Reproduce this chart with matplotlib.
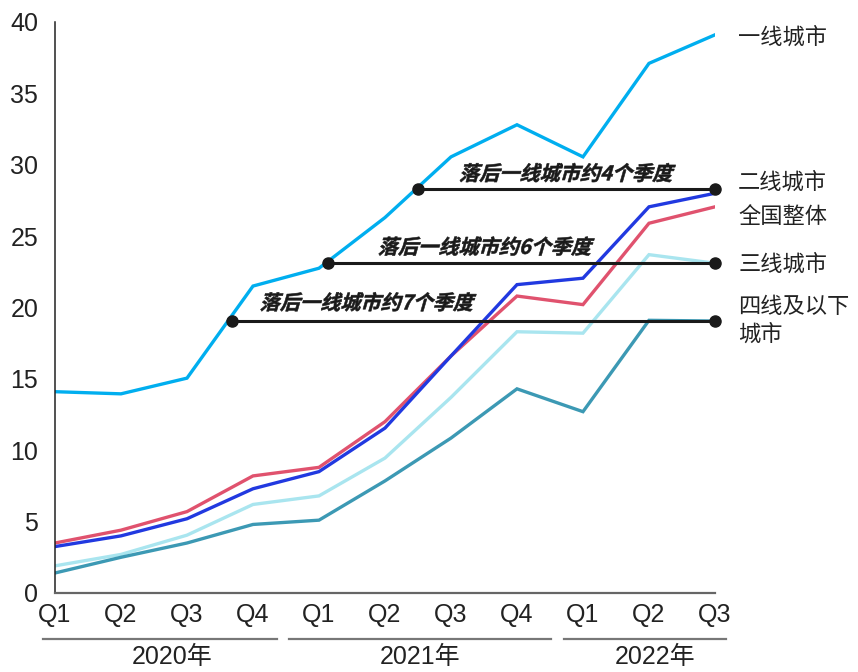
import matplotlib
matplotlib.use('Agg')
import matplotlib.pyplot as plt
import matplotlib.transforms as mtransforms
from matplotlib.textpath import TextPath
from matplotlib.patches import PathPatch
from matplotlib.font_manager import FontProperties

plt.rcParams['font.family'] = ['Liberation Sans', 'Noto Sans CJK SC']

quarters = ['Q1', 'Q2', 'Q3', 'Q4', 'Q1', 'Q2', 'Q3', 'Q4', 'Q1', 'Q2', 'Q3']
years = ['2020年', '2021年', '2022年']

tier1 = [14.1, 13.95, 15.05, 21.5, 22.75, 26.3, 30.55, 32.8, 30.55, 37.1, 39.1]
tier2 = [3.25, 4.0, 5.2, 7.3, 8.5, 11.55, 16.6, 21.6, 22.05, 27.05, 28.0]
national = [3.5, 4.4, 5.7, 8.2, 8.8, 12.0, 16.6, 20.8, 20.2, 25.9, 27.05]
tier3 = [1.9, 2.7, 4.05, 6.2, 6.8, 9.45, 13.7, 18.3, 18.2, 23.7, 23.1]
tier4 = [1.4, 2.5, 3.5, 4.8, 5.1, 7.85, 10.85, 14.3, 12.7, 19.1, 19.05]

series_names = ['一线城市', '二线城市', '全国整体', '三线城市', '四线及以下\n城市']
series_colors = ['#00aeef', '#2139e0', '#e0526e', '#a9e5ef', '#3c99b4']
label_y = [38.9, 28.75, 26.35, 23.05, 19.1]

# lag markers: where the line catches up with tier-1 level
lag_quarters = [7, 6, 4]
lag_start_x = [2.68, 4.14, 5.5]
lag_y = [19.06, 23.1, 28.3]
lag_text_pos = [(4.75, 20.4), (6.54, 24.3), (7.77, 29.45)]

fig = plt.figure(figsize=(8.58, 6.72), dpi=100)
ax = fig.add_axes([0.0641, 0.1176, 0.7692, 0.8497])

x = list(range(len(quarters)))
data = [tier1, tier2, national, tier3, tier4]
order = [0, 3, 4, 2, 1]
for i in order:
    ax.plot(x, data[i], color=series_colors[i], lw=2.4, zorder=2,
            solid_joinstyle='miter')

ax.set_xlim(0, 10)
ax.set_ylim(0, 40)
ax.set_yticks(range(0, 41, 5))
ax.set_xticks(x)
ax.set_xticklabels(quarters)
ax.tick_params(axis='both', length=0, labelsize=18, colors='#222222')
ax.tick_params(axis='y', pad=12)
ax.tick_params(axis='x', pad=7)
for sp in ['top', 'right']:
    ax.spines[sp].set_visible(False)
ax.spines['left'].set_color('#222222')
ax.spines['left'].set_linewidth(1.1)
ax.spines['bottom'].set_color('#666666')
ax.spines['bottom'].set_linewidth(1.6)

# series labels on the right
cjk = ['Noto Sans CJK SC', 'DejaVu Sans']
for name, yy in zip(series_names, label_y):
    ax.text(10.35, yy, name, family=cjk, fontsize=16, color='#222222',
            va='center', ha='left', linespacing=1.3, clip_on=False)

# lag lines with slanted bold annotations
fp = FontProperties(family=['Noto Sans CJK SC'], weight='bold')
for q, x0, yy, (tx, ty) in zip(lag_quarters, lag_start_x, lag_y, lag_text_pos):
    ax.plot([x0, 10], [yy, yy], color='#1a1a1a', lw=2.2, zorder=4,
            marker='o', markersize=8, clip_on=False)
    tp = TextPath((0, 0), f'落后一线城市约{q}个季度', size=14.5, prop=fp)
    ext = tp.get_extents()
    cx = (ext.x0 + ext.x1) / 2
    cy = (ext.y0 + ext.y1) / 2
    tr = (mtransforms.Affine2D().translate(-cx, -cy).skew_deg(16, 0)
          .scale(fig.dpi / 72.0)
          + mtransforms.ScaledTranslation(tx, ty, ax.transData))
    ax.add_patch(PathPatch(tp, transform=tr, color='#1a1a1a', lw=0.4,
                           zorder=5, clip_on=False))

# year groups under the quarter labels
group_lines = [(43, 277), (289, 551), (564, 726)]
year_x = [172, 420, 655]
W, H = 858, 672
for (a, b), yx, yr in zip(group_lines, year_x, years):
    fig.add_artist(plt.Line2D([a / W, b / W], [1 - 639 / H, 1 - 639 / H],
                              color='#777777', lw=1.6))
    fig.text(yx / W, 1 - 657 / H, yr, ha='center', va='center',
             fontsize=18, color='#222222')

fig.savefig('out.png', dpi=100)
